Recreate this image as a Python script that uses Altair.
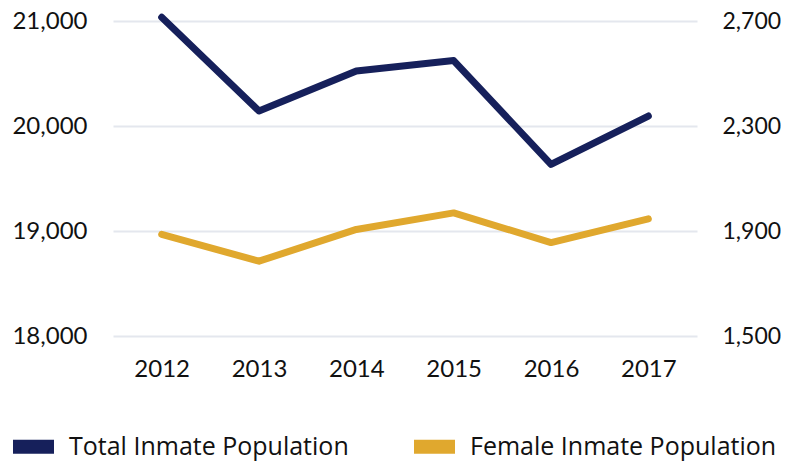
import altair as alt
import pandas as pd

years = ["2012", "2013", "2014", "2015", "2016", "2017"]
total_pop = [21035, 20143, 20524, 20623, 19635, 20095]
female_pop = [1887, 1785, 1906, 1969, 1856, 1946]
series_names = ["Total Inmate Population", "Female Inmate Population"]
series_colors = ["#16205b", "#e0a82e"]
left_ticks = [18000, 19000, 20000, 21000]
right_ticks = [1500, 1900, 2300, 2700]

df = pd.DataFrame({
    "year": years * 2,
    "value": total_pop + female_pop,
    "series": [series_names[0]] * len(years) + [series_names[1]] * len(years),
})

FONT = "Lato"

color = alt.Color(
    "series:N",
    scale=alt.Scale(domain=series_names, range=series_colors),
    legend=alt.Legend(
        title=None,
        orient="none",
        direction="horizontal",
        legendX=-107,
        legendY=398,
        symbolType="stroke",
        symbolSize=1681,
        symbolStrokeWidth=14,
        labelFont="Open Sans",
        labelFontSize=25,
        labelColor="#111111",
        labelOffset=8,
        labelLimit=400,
        columnPadding=37,
    ),
)

x = alt.X(
    "year:O",
    sort=years,
    axis=alt.Axis(
        title=None, labelAngle=0, ticks=False, domain=False, grid=False,
        labelFont=FONT, labelFontSize=24, labelColor="#111111", labelPadding=21,
    ),
)

base = alt.Chart(df)

total_line = base.transform_filter(alt.datum.series == series_names[0]).mark_line(
    strokeWidth=7, strokeCap="round", strokeJoin="round"
).encode(
    x=x,
    y=alt.Y(
        "value:Q",
        scale=alt.Scale(domain=[18000, 21000], nice=False, zero=False),
        axis=alt.Axis(
            title=None, orient="left", values=left_ticks, format=",d",
            ticks=False, domain=False, grid=True, gridColor="#e4e7ee", gridWidth=2,
            labelFont=FONT, labelFontSize=24, labelColor="#111111", labelPadding=26,
        ),
    ),
    color=color,
)

female_line = base.transform_filter(alt.datum.series == series_names[1]).mark_line(
    strokeWidth=7, strokeCap="round", strokeJoin="round"
).encode(
    x=x,
    y=alt.Y(
        "value:Q",
        scale=alt.Scale(domain=[1500, 2700], nice=False, zero=False),
        axis=alt.Axis(
            title=None, orient="right", values=right_ticks, format=",d",
            ticks=False, domain=False, grid=False,
            labelFont=FONT, labelFontSize=23, labelColor="#111111", labelPadding=25,
        ),
    ),
    color=color,
)

chart = alt.layer(total_line, female_line).resolve_scale(
    y="independent"
).properties(
    width=584,
    height=315,
    padding={"left": 105, "top": 13, "right": 84, "bottom": 125},
    autosize=alt.AutoSizeParams(type="none"),
).configure(background="white").configure_view(stroke="transparent", strokeWidth=0)

chart.save("out.html", embed_options={"renderer": "svg", "actions": False})
